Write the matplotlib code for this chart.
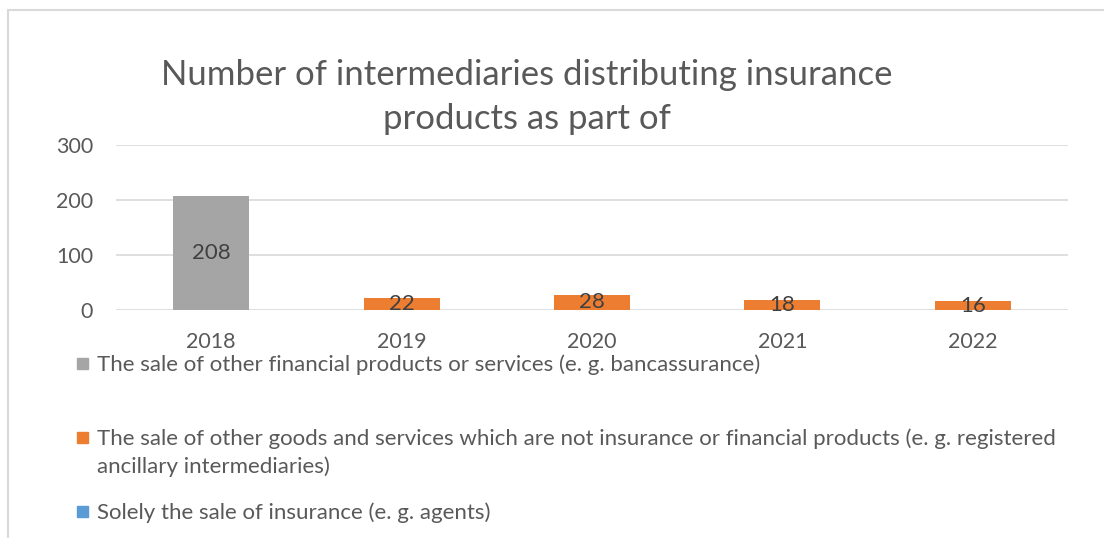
import matplotlib.pyplot as plt
import matplotlib.patches as patches
from matplotlib.lines import Line2D
import numpy as np

plt.rcParams['font.family'] = ['Lato', 'DejaVu Sans']

years = ['2018', '2019', '2020', '2021', '2022']
financial = [208, 0, 0, 0, 0]
other_goods = [0, 22, 28, 18, 16]
solely_insurance = [0, 0, 0, 0, 0]

series_names = [
    'The sale of other financial products or services (e. g. bancassurance)',
    'The sale of other goods and services which are not insurance or financial products (e. g. registered\nancillary intermediaries)',
    'Solely the sale of insurance (e. g. agents)',
]
colors = ['#A5A5A5', '#ED7D31', '#5B9BD5']
text_col = '#595959'

W, H = 1104, 538
fig = plt.figure(figsize=(W / 100, H / 100), dpi=100)
ax = fig.add_axes([116 / W, 1 - 310 / H, (1068 - 116) / W, (310 - 145) / H])

x = np.arange(len(years))
bottom = np.zeros(len(years))
for vals, c in zip([financial, other_goods, solely_insurance], colors):
    vals = np.array(vals, dtype=float)
    bars = ax.bar(x, vals, 0.4, bottom=bottom, color=c, zorder=2)
    for b, v in zip(bars, vals):
        if v > 0:
            ax.text(b.get_x() + b.get_width() / 2, b.get_y() + v / 2, str(int(v)),
                    ha='center', va='center', fontsize=16, color='#404040', zorder=3)
    bottom += vals

ax.set_xlim(-0.5, len(years) - 0.5)
ax.set_ylim(0, 300)
ax.set_yticks([0, 100, 200, 300])
ax.set_xticks(x)
ax.set_xticklabels(years)
ax.tick_params(length=0, labelsize=15.5, labelcolor=text_col)
ax.tick_params(axis='y', pad=16.5)
ax.tick_params(axis='x', pad=15.5)
ax.grid(axis='y', color='#D9D9D9', lw=1.2, zorder=0)
for s in ax.spines.values():
    s.set_visible(False)

fig.text(527 / W, 1 - 97 / H, 'Number of intermediaries distributing insurance\nproducts as part of',
         ha='center', va='center', fontsize=25, color=text_col, linespacing=1.45)

# legend drawn by hand to match spacing; marker sits on the first text line
legend_y = [364, 438, 512]
for name, c, yy in zip(series_names, colors, legend_y):
    fig.patches.append(patches.Rectangle((77 / W, 1 - (yy + 5) / H), 11 / W, 11 / H,
                                         transform=fig.transFigure, color=c))
    fig.text(97 / W, 1 - (yy - 10) / H, name, ha='left', va='top', fontsize=16,
             color=text_col, linespacing=1.45)

# chart area border
fig.add_artist(Line2D([8 / W, 8 / W], [0, 1 - 10 / H], transform=fig.transFigure, color='#D9D9D9', lw=1.5))
fig.add_artist(Line2D([8 / W, 1], [1 - 10 / H, 1 - 10 / H], transform=fig.transFigure, color='#D9D9D9', lw=1.5))

fig.savefig('out.png', dpi=100)
